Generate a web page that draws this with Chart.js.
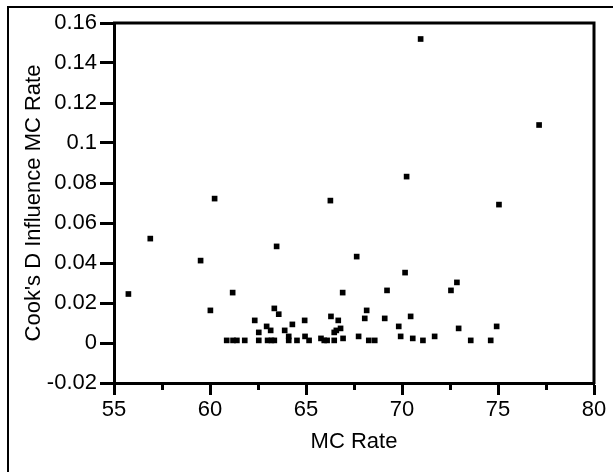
<!DOCTYPE html>
<html><head><meta charset="utf-8">
<script src="https://cdn.jsdelivr.net/npm/chart.js@4/dist/chart.umd.min.js"></script>
<style>html,body{margin:0;padding:0;background:#fff;overflow:hidden}#wrap{position:relative;width:613px;height:472px}</style>
</head><body><div id="wrap"><canvas id="c" width="613" height="472"></canvas></div>
<script>
const mcRate = [55.75, 56.89, 59.51, 60.02, 60.24, 61.18, 60.87, 61.2, 61.4, 61.81,
  62.33, 62.54, 62.54, 62.95, 63.16, 63.0, 63.2, 63.35, 63.35, 63.58,
  63.47, 63.89, 64.1, 64.1, 64.29, 64.53, 64.93, 64.95, 65.16, 65.78,
  65.95, 66.1, 66.27, 66.3, 66.47, 66.47, 66.58, 66.68, 66.8, 66.91,
  66.93, 67.64, 67.74, 68.06, 68.16, 68.27, 68.58, 69.1, 69.22, 69.83,
  69.93, 70.16, 70.24, 70.45, 70.56, 70.97, 71.09, 71.7, 72.55, 72.86,
  72.95, 73.58, 74.62, 74.93, 75.05, 77.14];
const cooksD = [0.0245, 0.0522, 0.0412, 0.0163, 0.0722, 0.0252, 0.0013, 0.0013, 0.0013, 0.0013,
  0.0113, 0.0053, 0.0013, 0.0083, 0.0063, 0.0013, 0.0013, 0.0013, 0.0173, 0.0144,
  0.0483, 0.0063, 0.0033, 0.0013, 0.0093, 0.0013, 0.0113, 0.0033, 0.0013, 0.0023,
  0.0013, 0.0013, 0.0712, 0.0133, 0.0013, 0.0053, 0.0063, 0.0113, 0.0073, 0.0252,
  0.0023, 0.0432, 0.0033, 0.0123, 0.0163, 0.0013, 0.0013, 0.0123, 0.0263, 0.0083,
  0.0033, 0.0352, 0.0832, 0.0133, 0.0023, 0.152, 0.0013, 0.0033, 0.0263, 0.0303,
  0.0073, 0.0013, 0.0013, 0.0083, 0.0692, 0.109];
const xMajorTicks = [55, 60, 65, 70, 75, 80];
const xMinorTicks = [57.5, 62.5, 67.5, 72.5, 77.5];
const yTicks = [-0.02, 0, 0.02, 0.04, 0.06, 0.08, 0.1, 0.12, 0.14, 0.16];
const yTickLabels = ['-0.02', '0', '0.02', '0.04', '0.06', '0.08', '0.1', '0.12', '0.14', '0.16'];
const xTitle = 'MC Rate';
const yTitle = "Cook's D Influence MC Rate";

const FONT = {family: "'Liberation Sans', Arial, sans-serif", size: 22};

const framePlugin = {
  id: 'frame',
  beforeDraw(chart) {
    const ctx = chart.ctx;
    ctx.save();
    ctx.fillStyle = '#fff';
    ctx.fillRect(0, 0, chart.width, chart.height);
    ctx.strokeStyle = '#000';
    ctx.lineWidth = 2;
    ctx.beginPath();
    ctx.moveTo(8, chart.height + 2);
    ctx.lineTo(8, 7);
    ctx.lineTo(chart.width + 2, 7);
    ctx.stroke();
    ctx.restore();
  },
  afterDraw(chart) {
    const ctx = chart.ctx;
    const a = chart.chartArea;
    const xs = chart.scales.x;
    ctx.save();
    ctx.strokeStyle = '#000';
    ctx.lineWidth = 3;
    ctx.beginPath();
    ctx.moveTo(a.left - 1, a.top);
    ctx.lineTo(a.right, a.top);
    ctx.lineTo(a.right, a.bottom + 1);
    ctx.stroke();
    xMinorTicks.forEach(v => {
      const px = Math.round(xs.getPixelForValue(v)) + 0.5;
      ctx.beginPath();
      ctx.moveTo(px, a.bottom);
      ctx.lineTo(px, a.bottom + 7);
      ctx.stroke();
    });
    ctx.restore();
  }
};

new Chart(document.getElementById('c'), {
  type: 'scatter',
  data: {
    datasets: [{
      data: mcRate.map((x, i) => ({x: x, y: cooksD[i]})),
      pointStyle: 'rect',
      pointRadius: 4,
      pointHoverRadius: 4,
      borderWidth: 0,
      backgroundColor: '#000',
      borderColor: '#000'
    }]
  },
  options: {
    responsive: false,
    animation: false,
    events: [],
    layout: {padding: {top: 23, right: 19, left: 0, bottom: 0}},
    plugins: {legend: {display: false}, tooltip: {enabled: false}},
    scales: {
      x: {
        type: 'linear', min: 55, max: 80,
        afterBuildTicks: s => { s.ticks = xMajorTicks.map(v => ({value: v})); },
        afterFit: s => { s.height = 89; },
        border: {display: true, width: 3, color: '#000'},
        grid: {drawOnChartArea: false, drawTicks: true, tickLength: 12, tickWidth: 3, tickColor: '#000', color: '#000'},
        ticks: {color: '#000', font: FONT, padding: 2, maxRotation: 0, autoSkip: false,
          callback: v => String(v)},
        title: {display: true, text: xTitle, color: '#000', font: FONT, padding: {top: 0, bottom: 17}}
      },
      y: {
        type: 'linear', min: -0.02, max: 0.16,
        afterBuildTicks: s => { s.ticks = yTicks.map(v => ({value: v})); },
        afterFit: s => { s.width = 114; },
        border: {display: true, width: 3, color: '#000'},
        grid: {drawOnChartArea: false, drawTicks: true, tickLength: 14, tickWidth: 3, tickColor: '#000', color: '#000'},
        ticks: {color: '#000', font: FONT, padding: 3, autoSkip: false,
          callback: (v, i) => yTickLabels[yTicks.indexOf(v)] !== undefined ? yTickLabels[yTicks.indexOf(v)] : ''},
        title: {display: true, text: yTitle, color: '#000', font: FONT, padding: {top: 21, bottom: 0}}
      }
    }
  },
  plugins: [framePlugin]
});
</script>
</body></html>
